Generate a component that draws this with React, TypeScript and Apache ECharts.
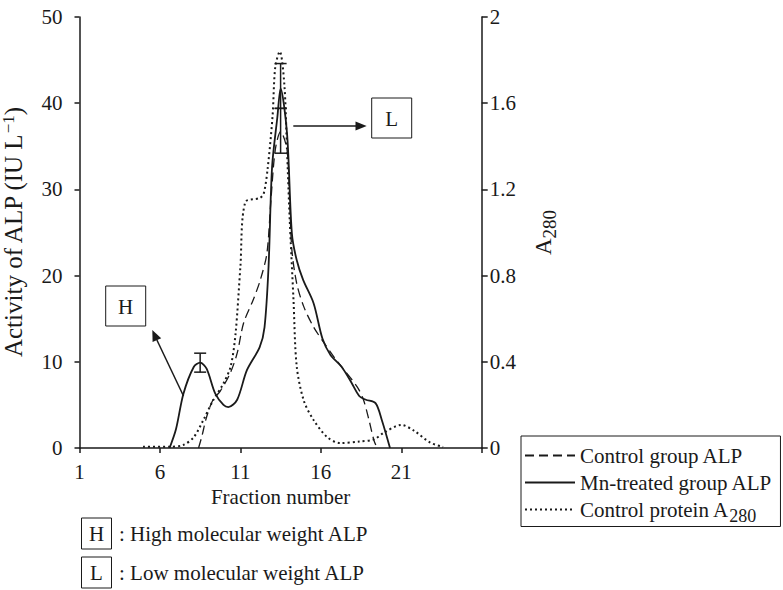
import React, { useEffect, useRef } from "react";
import * as echarts from "echarts";

const FONT = "Liberation Serif";
const INK = "#1a1a1a";

// Axis ticks / labels
const xTickValues = [1, 6, 11, 16, 21, 26];
const xLabelValues = [1, 6, 11, 16, 21];

const seriesNames = ["Control group ALP", "Mn-treated group ALP", "Control protein A280"];

// Control group ALP (IU/L) vs fraction number
const controlALP: [number, number][] = [
  [8.4, 0], [8.6, 1.3], [8.9, 3.6], [9.3, 5.6], [9.75, 6.6], [10.37, 8.7], [10.8, 11],
  [11.2, 14.5], [11.8, 17.2], [12.24, 19.5], [12.65, 22.6], [12.9, 28.8], [13.17, 34.6],
  [13.5, 36.7], [13.9, 34.6], [14.06, 28.8], [14.2, 23], [14.5, 19.1], [14.94, 16.4],
  [15.56, 14], [16.2, 12.2], [16.8, 10.6], [17.3, 9.4], [18.26, 7.1], [18.65, 5.6],
  [19.0, 3.2], [19.3, 0.9], [19.5, 0],
];

// Mn-treated group ALP (IU/L)
const mnALP: [number, number][] = [
  [6.6, 0], [7.0, 2.2], [7.46, 6.3], [8.1, 9.4], [8.5, 9.9], [8.9, 9.2], [9.44, 6.3],
  [9.95, 5.0], [10.25, 4.75], [10.8, 5.6], [11.4, 9.0], [12.2, 11.7], [12.5, 14.0],
  [12.75, 21], [12.97, 32.6], [13.3, 38.4], [13.5, 41.7], [13.9, 36.5], [14.2, 24.9],
  [14.5, 21.8], [14.9, 19.5], [15.55, 16.8], [16.1, 12.7], [16.6, 10.8], [17.3, 9.4],
  [17.9, 7.6], [18.4, 6.0], [18.8, 5.6], [19.4, 5.2], [19.8, 3.2], [20.3, 0],
];

// Control protein A280
const controlA280: [number, number][] = [
  [4.95, 0.006], [6.6, 0.006], [7.45, 0.014], [8.1, 0.05], [8.7, 0.13], [9.3, 0.22],
  [9.95, 0.3], [10.4, 0.38], [10.7, 0.53], [11.0, 0.84], [11.3, 1.14], [12.2, 1.16],
  [12.45, 1.18], [12.7, 1.3], [13.0, 1.54], [13.17, 1.77], [13.45, 1.84], [13.73, 1.69],
  [13.9, 1.38], [14.06, 1.07], [14.3, 0.69], [14.5, 0.38], [14.94, 0.22], [15.55, 0.13],
  [16.4, 0.05], [17.2, 0.023], [18.4, 0.03], [19.3, 0.04], [19.9, 0.07], [21.0, 0.107],
  [21.8, 0.08], [22.8, 0.025], [23.6, 0.005],
];

// Error bars: [fraction, low, high]
const mnErrors: [number, number, number][] = [
  [8.5, 8.8, 11.0],
  [13.5, 39.4, 44.6],
];
const controlErrors: [number, number, number][] = [[13.5, 34.2, 39.4]];

const renderErrorBar = (_params: any, api: any) => {
  const x = api.value(0);
  const lo = api.coord([x, api.value(1)]);
  const hi = api.coord([x, api.value(2)]);
  const w = 6;
  const style = { stroke: INK, lineWidth: 1.5, fill: "none" };
  return {
    type: "group",
    children: [
      { type: "line", shape: { x1: lo[0], y1: lo[1], x2: hi[0], y2: hi[1] }, style },
      { type: "line", shape: { x1: lo[0] - w, y1: lo[1], x2: lo[0] + w, y2: lo[1] }, style },
      { type: "line", shape: { x1: hi[0] - w, y1: hi[1], x2: hi[0] + w, y2: hi[1] }, style },
    ],
  };
};

const txt = (text: string, x: number, y: number, align: string) => ({
  type: "text",
  silent: true,
  style: {
    text,
    x,
    y,
    fontFamily: FONT,
    fontSize: 21,
    fill: INK,
    align,
    verticalAlign: "middle",
    textAlign: align,
    textVerticalAlign: "middle",
  },
});

const box = (x: number, y: number, w: number, h: number) => ({
  type: "rect",
  silent: true,
  shape: { x, y, width: w, height: h },
  style: { fill: "#fff", stroke: INK, lineWidth: 1 },
});

export default function App() {
  const ref = useRef<HTMLDivElement>(null);

  useEffect(() => {
    if (!ref.current) return;
    const chart = echarts.init(ref.current, null, { renderer: "svg" });

    const axisText = { fontFamily: FONT, fontSize: 21, color: INK };

    chart.setOption({
      animation: false,
      textStyle: { fontFamily: FONT },
      grid: {
        left: 79.5,
        right: 301.3,
        top: 17,
        bottom: 142,
        containLabel: false,
        outerBoundsMode: "none",
      },
      legend: {
        orient: "vertical",
        left: 521,
        top: 436,
        data: seriesNames,
        itemWidth: 50,
        itemHeight: 10,
        itemGap: 6,
        padding: [9, 8, 2, 3],
        borderColor: INK,
        borderWidth: 1,
        selectedMode: false,
        itemStyle: { color: "rgba(0,0,0,0)", borderColor: "rgba(0,0,0,0)", borderWidth: 0 },
        formatter: (name: string) =>
          name === "Control protein A280" ? "Control protein A{sub|280}" : name,
        textStyle: {
          fontFamily: FONT,
          fontSize: 21,
          color: INK,
          rich: {
            sub: { fontFamily: FONT, fontSize: 18, color: INK, padding: [12, 0, 0, 0] },
          },
        },
      },
      xAxis: {
        type: "value",
        min: 1,
        max: 26,
        name: "Fraction number",
        nameLocation: "middle",
        nameGap: 37,
        nameTextStyle: axisText,
        axisLine: { show: true, lineStyle: { color: INK, width: 1.5 } },
        axisTick: { show: true, length: 5, lineStyle: { color: INK, width: 1.5 }, customValues: xTickValues },
        axisLabel: { ...axisText, margin: 13, customValues: xLabelValues },
        splitLine: { show: false },
      },
      yAxis: [
        {
          type: "value",
          position: "left",
          min: 0,
          max: 50,
          interval: 10,
          name: "Activity of ALP (IU L{sup|−1})",
          nameLocation: "middle",
          nameRotate: 90,
          nameGap: 52,
          nameTextStyle: {
            ...axisText,
            fontSize: 25,
            rich: { sup: { fontFamily: FONT, fontSize: 17, color: INK, padding: [0, 0, 11, 0] } },
          },
          axisLine: { show: true, lineStyle: { color: INK, width: 1.5 } },
          axisTick: { show: true, length: 5, lineStyle: { color: INK, width: 1.5 } },
          axisLabel: { ...axisText, margin: 17 },
          splitLine: { show: false },
        },
        {
          type: "value",
          position: "right",
          min: 0,
          max: 2,
          interval: 0.4,
          name: "A{sub|280}",
          nameLocation: "middle",
          nameRotate: 90,
          nameGap: 46,
          nameTextStyle: {
            ...axisText,
            fontSize: 23,
            rich: { sub: { fontFamily: FONT, fontSize: 19, color: INK, padding: [12, 0, 0, 0] } },
          },
          axisLine: { show: true, lineStyle: { color: INK, width: 1.5 } },
          axisTick: { show: true, length: 6, lineStyle: { color: INK, width: 1.5 } },
          axisLabel: { ...axisText, margin: 8 },
          splitLine: { show: false },
        },
      ],
      series: [
        {
          name: seriesNames[0],
          type: "line",
          data: controlALP,
          yAxisIndex: 0,
          symbol: "none",
          showSymbol: false,
          smooth: 0.3,
          lineStyle: { color: INK, width: 1.3, type: [9, 5] },
          itemStyle: { color: INK },
          z: 3,
        },
        {
          name: seriesNames[1],
          type: "line",
          data: mnALP,
          yAxisIndex: 0,
          symbol: "none",
          showSymbol: false,
          smooth: 0.3,
          lineStyle: { color: INK, width: 1.8, type: "solid" },
          itemStyle: { color: INK },
          z: 4,
        },
        {
          name: seriesNames[2],
          type: "line",
          data: controlA280,
          yAxisIndex: 1,
          symbol: "none",
          showSymbol: false,
          smooth: 0.3,
          lineStyle: { color: INK, width: 2, type: [2, 3] },
          itemStyle: { color: INK },
          z: 2,
        },
        {
          name: "Mn error",
          type: "custom",
          data: mnErrors,
          yAxisIndex: 0,
          encode: { x: 0, y: [1, 2] },
          renderItem: renderErrorBar,
          clip: false,
          z: 5,
        },
        {
          name: "Control error",
          type: "custom",
          data: controlErrors,
          yAxisIndex: 0,
          encode: { x: 0, y: [1, 2] },
          renderItem: renderErrorBar,
          clip: false,
          z: 5,
        },
      ],
      graphic: [
        // H annotation
        box(105.7, 286, 40, 40),
        txt("H", 125.7, 306.5, "center"),
        {
          type: "line",
          silent: true,
          shape: { x1: 183.5, y1: 396, x2: 156.9, y2: 340 },
          style: { stroke: INK, lineWidth: 1.5 },
        },
        {
          type: "polygon",
          silent: true,
          shape: { points: [[152.3, 330], [161.2, 338.2], [152.6, 342]] },
          style: { fill: INK },
        },
        // L annotation
        box(371.7, 98, 40, 40),
        txt("L", 391.7, 118.5, "center"),
        {
          type: "line",
          silent: true,
          shape: { x1: 293.3, y1: 126, x2: 357, y2: 126 },
          style: { stroke: INK, lineWidth: 1.5 },
        },
        {
          type: "polygon",
          silent: true,
          shape: { points: [[366.7, 126], [355.5, 121.5], [355.5, 130.5]] },
          style: { fill: INK },
        },
        // Key below the chart
        box(81.5, 518, 30, 31),
        txt("H", 96.5, 534, "center"),
        txt(": High molecular weight ALP", 119, 534, "left"),
        box(81.5, 557, 30, 31),
        txt("L", 96.5, 573, "center"),
        txt(": Low molecular weight ALP", 119, 573, "left"),
      ],
    });

    return () => chart.dispose();
  }, []);

  return (
    <div
      ref={ref}
      style={{ position: "absolute", left: 0, top: 0, width: 783, height: 590, background: "#fff" }}
    />
  );
}
